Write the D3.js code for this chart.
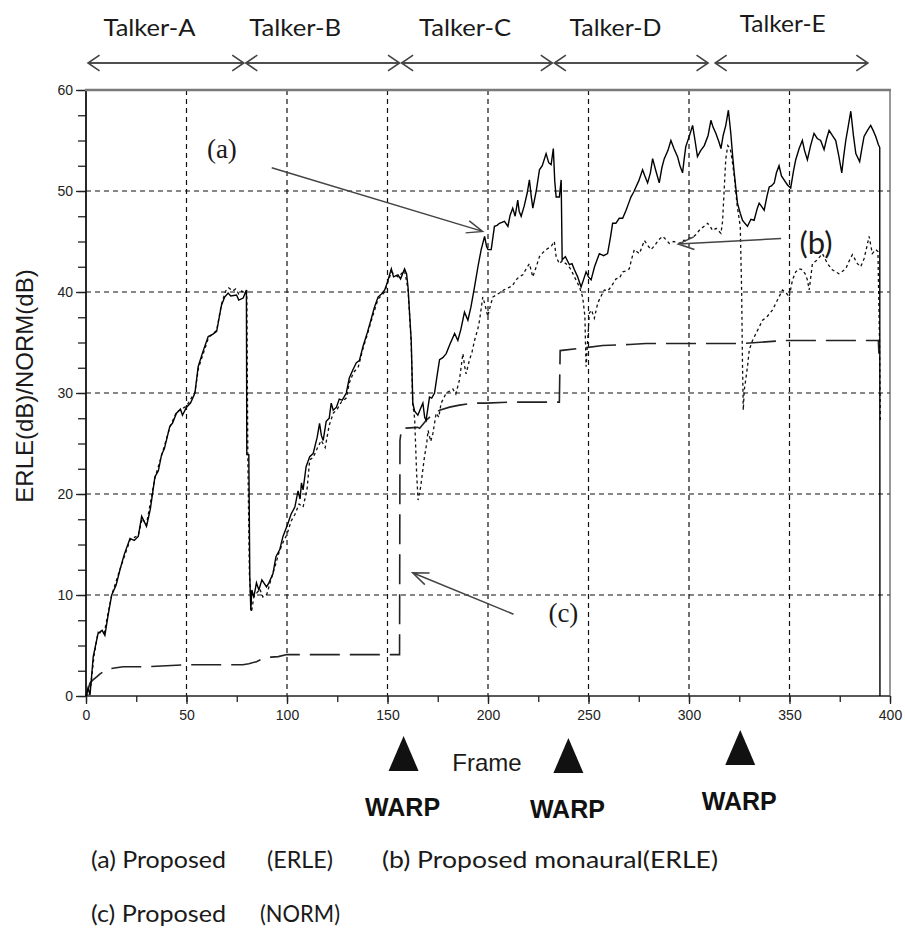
<!DOCTYPE html>
<html>
<head>
<meta charset="utf-8">
<script src="https://cdn.jsdelivr.net/npm/d3@7"></script>
<style>
  body { margin: 0; background: #fff; }
  svg { display: block; }
  .tick text { font-family: "Liberation Sans", Arial, sans-serif; font-size: 14px; fill: #222; }
</style>
</head>
<body>
<div class="chart"></div>
<script>
// ---- data ----
var frameTicks = [0, 50, 100, 150, 200, 250, 300, 350, 400];
var dbTicks = [0, 10, 20, 30, 40, 50, 60];

var talkers = ['Talker-A', 'Talker-B', 'Talker-C', 'Talker-D', 'Talker-E'];
var talkerSpans = [[0, 78.5], [78.5, 156], [156, 232], [232, 309.5], [312, 389]];
var warpFrames = [158, 240, 325.5];

// (a) Proposed (ERLE)  [frame, dB]
var erleProposed = [
  [0,0],[1,0.8],[2,0.1],[3.6,3.9],[6,6.2],[8,6.5],[9.4,6.0],[11,8],[12.8,10],[15,11],[16.9,12.5],[19,14],
  [21.9,15.6],[24,15.4],[26,15.8],[27.7,17.8],[30.1,16.8],[32,18.5],[34.3,21.7],[36,22.3],[37.6,23.9],[39,24.5],
  [41.7,26.7],[43,27],[45,28],[47,28.4],[48,27.8],[50,28.6],[52,29],[54.2,30],[55.8,32.6],[58,34],[60.8,35.6],
  [63,35.8],[65,36.1],[67.4,38.7],[69,39.5],[70.7,39.9],[72,39.6],[74.9,39.7],[76,39.2],[78.2,39.4],[79.8,40.2],
  [80,23.9],[81,23.9],[81.5,11.8],[82,8.5],[82.5,10.5],[83.5,9.8],[84.8,11.2],[86,10.5],[87.5,11.5],[89.8,10.8],
  [91,11.2],[93,12.1],[94.5,13.8],[96.4,14.5],[98,15.8],[100.5,17.1],[102,18],[103.9,18.7],[105.5,20.3],[106.5,19.5],
  [107.2,21.1],[108,20.4],[109.5,22.7],[111.3,23.7],[113,24],[115,25.6],[116.2,27],[117.1,25.8],[118,25.3],
  [119.5,27.2],[121,27.5],[122,29],[123,28.3],[124.6,28.6],[126,29.4],[127.5,29.3],[129.5,30],[131,31.5],
  [132.8,32.3],[134.5,33],[136,33.2],[137.8,34.6],[140,36],[142,37.4],[143.5,38.5],[145.3,39.5],[147,39.8],
  [148.6,40.2],[150,41],[151.9,42.3],[153,41.5],[155.2,41.7],[156.5,41.3],[158.5,42.3],[159.5,41.8],[160.2,40.5],
  [161.8,35.2],[162.6,29],[163.5,28.2],[165.1,27.8],[166.5,28.5],[167.6,29],[168.5,27.6],[169.2,27.3],[170.9,29.6],
  [172,29.5],[173.4,30],[174.5,31.5],[175.9,33.3],[177.5,33.5],[179.2,33.9],[181,34.8],[183.4,35.9],[185,35.2],
  [186.5,36.3],[188.3,38],[190,37.2],[191.5,38.5],[193.3,40.5],[195,42.5],[196.6,44.2],[198.3,45.5],[199.3,44.5],
  [200,44.2],[201.6,44.2],[203.2,46.5],[204.5,46.6],[205.7,46.8],[208.2,47],[209.9,46.5],[211,47.6],[212.3,48.3],
  [213.5,47.5],[214.8,49.1],[215.5,48],[216.5,47.5],[218,48.5],[219.5,49.8],[220.6,51.1],[221.5,49.5],[222.3,48.3],
  [224,50],[225.6,52.1],[227,52.5],[228.9,53.7],[230.2,52.8],[231.4,52.6],[232.5,54.2],[233.2,51],[233.9,49.4],
  [235.5,49.4],[236.4,51.1],[236.9,43.2],[238.5,43.5],[240.5,42.7],[241.8,42.8],[243,42.2],[244.6,41.5],[246.3,40.5],
  [247.5,41.2],[248.8,42],[250,41.5],[251.3,41.2],[253,42.5],[255.4,43.8],[257.5,43.6],[259.5,43.8],[261,45.5],
  [262,46.8],[263.6,46.8],[265.3,47.3],[267,47.3],[268.7,48.1],[270,48.8],[271.1,49.4],[272.5,49.9],[273.6,50.4],
  [275,51],[276.9,52.1],[278,51.5],[279.4,50.8],[280.8,51.8],[281.9,53.2],[283.5,52],[285.2,50.8],[286.5,52.3],
  [287.7,53.2],[289.5,54],[291,55],[292.5,54.2],[294.3,53.4],[295.5,52.5],[296.8,51.8],[297.5,53],[298.4,54.4],
  [300.1,55.4],[301.8,56.5],[303,55],[304.2,53.4],[305.8,54],[307.6,54.5],[309.5,55.5],[310.9,57],[312,56.3],
  [313.4,55.7],[315,54.8],[315.9,54.2],[317,55.5],[318.3,56.5],[319.6,58],[320.8,55.7],[321.7,53.5],[322.5,51.8],
  [324.1,48.8],[325.5,47.8],[326.6,47.1],[327.8,46.8],[329.1,46.5],[330.8,47.2],[332.4,47.1],[334,48.3],[334.9,48.8],
  [336,48.5],[337.4,48.1],[338.8,49.5],[339.9,50.4],[341,50.5],[342.4,50.8],[343.5,51.8],[344.8,52.5],[346,51.5],
  [347.3,51.1],[349,50.6],[350.6,50.3],[352,52],[353.1,53.1],[354.8,54.2],[356.4,55],[357.5,54],[358.9,53.1],
  [360.5,54.5],[362.2,55.7],[363.8,55.2],[365.5,55],[367.2,54.1],[368.5,55.2],[369.7,56],[371.3,55.5],[373,55],
  [374.5,53.5],[376,51.8],[377,53.5],[378,55],[379.3,56.5],[380.5,57.9],[381.8,55.5],[383,53.7],[384.9,52.9],
  [386,54.2],[387.1,55.4],[388.8,56],[390.4,56.5],[391.6,56],[392.9,55.4],[394.2,54.6],[394.9,54.3],[395,0]
];

// (b) Proposed monaural (ERLE)
var erleMonaural = [
  [0,0],[2,0.3],[4,4],[6,6.3],[9,6.2],[12.8,10],[17,12.6],[22,15.5],[26,15.9],[28,17.6],[30,16.9],[34.3,21.6],
  [37.6,23.8],[41.7,26.6],[45,28.1],[50,28.7],[54.2,30.1],[56,32.5],[61,35.5],[65,36.2],[67.4,38.8],[69.5,40.1],
  [71,40.4],[73,40.1],[74.5,40.3],[76,39.8],[77.5,40.1],[79,39.8],[80,40.3],[80.5,24],[81.3,12],[82.3,8.3],
  [83.5,9.8],[85,10.2],[86.5,10.6],[88,9.8],[90,10.1],[92,11.5],[94,12.8],[96,14.2],[98,15.2],[100,16],[102,17.3],
  [104,18],[106,19],[108,18.7],[110,20.5],[111.3,23.4],[113,23.6],[115,24.5],[117,25.3],[119,24.6],[121,26.8],
  [123,28],[125,28.4],[127,29.1],[129.5,29.5],[131,31],[133,32],[135.5,32.6],[137.8,34.4],[140,35.8],[142,37.2],
  [145.3,39.3],[148.6,40],[151.9,42],[155.2,41.5],[158.5,42.1],[160.2,40.3],[161.8,35],[162.5,29],[163.5,27.5],
  [164.5,22],[165.2,19.4],[166.5,20.7],[168.4,23.7],[169.5,25],[170.2,26.3],[171.5,25.2],[172.6,26],[174.2,28],
  [175.5,27.6],[176.7,29],[178,29.5],[179.2,30],[181,30.2],[182.5,30.4],[184,29.9],[185.8,31.3],[187.5,33.9],
  [188.5,32.5],[189.1,31.9],[190.8,33.3],[192,34],[193.3,35.2],[195,36.4],[195.8,37.2],[197.4,39.5],[198.3,38.9],
  [199.9,37.6],[201,38.5],[202.4,39.5],[204,39.7],[205.7,39.9],[207.8,40.2],[209.9,40.4],[212,40.6],[214,41.2],
  [215.5,41.5],[217.3,41.7],[219,42.3],[220.6,42.8],[222.3,41.5],[224,42.5],[225.6,43.5],[227.3,43.9],[228.9,44.2],
  [231.4,44.5],[233,45],[233.9,43.5],[235.5,42.8],[237,43.1],[238.8,42.8],[240,42.6],[241.3,42.2],[243.5,41.3],
  [245.5,40.5],[247.1,39.5],[248.2,37.6],[248.5,34.9],[248.8,32.6],[250.4,37.9],[251.5,38.2],[252.9,37.4],
  [254.6,38.9],[256,39.5],[257.9,40.2],[259.5,40.1],[261.2,40.5],[263.7,41.3],[265.5,41.4],[267,42],[268.8,42.1],
  [270.3,42.3],[271.5,43.3],[272.8,44.2],[274,44],[275.3,43.8],[276.5,44.4],[277.8,45.1],[279.5,44.6],[281.1,44.2],
  [282.5,44.5],[283.6,44.8],[285,45.2],[286.9,45.5],[288.5,45.2],[290.2,44.8],[292.5,45],[295.2,44.8],[296.8,45.1],
  [298.4,45.1],[300,45.3],[301.8,45.4],[303.5,45.7],[305.5,46.2],[307.5,46.5],[309.3,46.8],[310.5,46.5],[311.7,46.1],
  [313.5,46.3],[315.9,45.8],[316.7,47],[317.5,50.1],[318.3,53.2],[319.3,54.5],[320.5,54.2],[321.5,53],[322.5,51.5],
  [324,48.5],[325.5,46.5],[326.2,40],[326.6,33],[327,28.3],[327.5,30.3],[329.1,32.6],[330,34.3],[331.6,35.2],
  [334.1,36.2],[336.6,37.2],[339,37.6],[341.5,38.2],[344,39.2],[346.5,40.2],[348.1,40],[349.8,39.5],[351.5,41.2],
  [353.1,42],[354.8,42.3],[356.4,42.2],[357.8,41.8],[358.9,41.2],[359.8,40.2],[361.4,42.8],[363.9,43.2],[366.4,43.8],
  [368.9,42.8],[371.3,42.2],[374.6,41.8],[378,42.3],[379.5,43],[381.3,43.7],[383.8,42.8],[385.4,42.5],[387.1,43.3],
  [388.5,44.5],[389.6,45.5],[391.2,43.8],[392.9,44.2],[394,44],[394.8,35],[395.2,27.3]
];

// (c) Proposed (NORM)
var normProposed = [
  [0,0],[1,0.6],[2,1.3],[3.5,1.6],[5.3,1.9],[7,2.2],[8.6,2.4],[10,2.6],[11.9,2.7],[15,2.8],[18.5,2.9],[30,2.9],
  [40,3.0],[50,3.1],[60,3.1],[70,3.1],[78,3.1],[81,3.2],[84.8,3.4],[87,3.6],[89.8,3.8],[92,3.85],[95.6,3.9],
  [100,4.1],[120,4.1],[140,4.1],[156,4.1],[156.2,25.3],[157,26.5],[165,26.6],[166,26.5],[169.3,27.3],[172,27.8],
  [175.9,28.3],[180.9,28.6],[185.8,28.8],[192.4,29],[199,29],[212.3,29.1],[235.5,29.1],[235.9,34.2],[245,34.4],
  [257,34.7],[270.3,34.8],[278.6,34.9],[300,34.9],[326,34.9],[348,35.2],[394.2,35.2],[394.5,33.9]
];

// annotation labels, in data units: [frame, dB]
var annLabels = ['(a)', '(b)', '(c)'];
var annText = [[67.6, 53.3], [363.2, 43.8], [237.5, 7.3]];
var annFrom = [[92.4, 52.3], [345.8, 45.3], [212.7, 8.1]];
var annTo = [[197.3, 46.0], [294.7, 44.75], [162.5, 12.2]];

// ---- layout ----
var margin = { top: 90, right: 15, bottom: 235, left: 86 };
var width = 905 - margin.left - margin.right;
var height = 931 - margin.top - margin.bottom;

// centres of the talker names, in frames (they are not centred on the arrows)
var talkerLabelAt = [31.6, 104.1, 188.6, 263.4, 346.6];

var svg = d3.select('.chart')
  .append('svg')
    .attr('width', 905)
    .attr('height', 931)
  .append('g')
    .attr('transform', 'translate(' + margin.left + ', ' + margin.top + ')');

var xScale = d3.scaleLinear().domain([0, 400]).range([0, width]);
var yScale = d3.scaleLinear().domain([0, 60]).range([height, 0]);

// grid
svg.append('g')
  .selectAll('line')
  .data(frameTicks.filter(d => d > 0 && d < 400))
  .enter().append('line')
    .attr('x1', d => xScale(d)).attr('x2', d => xScale(d))
    .attr('y1', 0).attr('y2', height)
    .style('stroke', '#111').style('stroke-width', 1.2).style('stroke-dasharray', '5,4');
svg.append('g')
  .selectAll('line')
  .data(dbTicks.filter(d => d > 0 && d < 60))
  .enter().append('line')
    .attr('x1', 0).attr('x2', width)
    .attr('y1', d => yScale(d)).attr('y2', d => yScale(d))
    .style('stroke', '#111').style('stroke-width', 1.2).style('stroke-dasharray', '5,4');

// minor ticks
svg.append('g')
  .call(d3.axisLeft(yScale).tickValues(d3.range(0, 60.1, 2.5)).tickSize(8).tickFormat(''))
  .call(g => g.select('.domain').remove());
svg.append('g')
  .attr('transform', `translate(0, ${height})`)
  .call(d3.axisBottom(xScale).tickValues(d3.range(0, 401, 25)).tickSize(6).tickFormat(''))
  .call(g => g.select('.domain').remove());

// axes
var yAxis = d3.axisLeft(yScale).tickValues(dbTicks).tickSize(10).tickPadding(3);
svg.append('g').call(yAxis)
  .call(g => g.select('.domain').remove());
var xAxis = d3.axisBottom(xScale).tickValues(frameTicks).tickSize(8).tickPadding(6);
svg.append('g')
  .attr('transform', `translate(0, ${height})`)
  .call(xAxis)
  .call(g => g.select('.domain').remove());
svg.selectAll('.tick line').style('stroke', '#222').style('stroke-width', 1.3);

// frame
svg.append('line').attr('x1', 0).attr('x2', 0).attr('y1', 0).attr('y2', height)
  .style('stroke', '#111').style('stroke-width', 1.8);
svg.append('line').attr('x1', 0).attr('x2', width).attr('y1', height).attr('y2', height)
  .style('stroke', '#222').style('stroke-width', 1.6);
svg.append('line').attr('x1', width).attr('x2', width).attr('y1', 0).attr('y2', height)
  .style('stroke', '#555').style('stroke-width', 1.2);
svg.append('line').attr('x1', -1).attr('x2', width + 1).attr('y1', 0).attr('y2', 0)
  .style('stroke', '#7a7a7a').style('stroke-width', 2.5);

// series
var line = d3.line()
  .x(d => xScale(d[0]))
  .y(d => yScale(d[1]));

svg.append('path').datum(normProposed)
  .attr('d', line)
  .style('fill', 'none').style('stroke', '#222').style('stroke-width', 1.6)
  .style('stroke-dasharray', '30,10');
svg.append('path').datum(erleMonaural)
  .attr('d', line)
  .style('fill', 'none').style('stroke', '#111').style('stroke-width', 1.3)
  .style('stroke-dasharray', '3,3');
svg.append('path').datum(erleProposed)
  .attr('d', line)
  .style('fill', 'none').style('stroke', '#000').style('stroke-width', 1.4);

// open arrow helper
function arrow(g, x1, y1, x2, y2, len, spread, color, w) {
  var a = Math.atan2(y2 - y1, x2 - x1);
  var b1 = [x2 - len * Math.cos(a - spread), y2 - len * Math.sin(a - spread)];
  var b2 = [x2 - len * Math.cos(a + spread), y2 - len * Math.sin(a + spread)];
  g.append('path')
    .attr('d', `M${x1},${y1}L${x2},${y2}M${b1[0]},${b1[1]}L${x2},${y2}L${b2[0]},${b2[1]}`)
    .style('fill', 'none').style('stroke', color).style('stroke-width', w);
}

// annotations (a), (b), (c)
annLabels.forEach(function(lbl, i) {
  arrow(svg, xScale(annFrom[i][0]), yScale(annFrom[i][1]), xScale(annTo[i][0]), yScale(annTo[i][1]), 17, 0.38, '#444', 1.5);
  svg.append('text')
    .attr('x', xScale(annText[i][0]))
    .attr('y', yScale(annText[i][1]))
    .attr('text-anchor', 'middle')
    .style('font-family', i == 1 ? 'Lato, "Open Sans", sans-serif' : '"Liberation Serif", "DejaVu Serif", serif')
    .style('font-size', i == 1 ? '31px' : '27px')
    .style('fill', '#1a1a1a')
    .text(lbl);
});

// talker arrows on top
var talkerY = -27;
talkerSpans.forEach(function(s, i) {
  var x1 = xScale(s[0]) + 2, x2 = xScale(s[1]);
  arrow(svg, x1, talkerY, x2, talkerY, 14, 0.6, '#444', 1.6);
  arrow(svg, x2, talkerY, x1, talkerY, 14, 0.6, '#444', 1.6);
  svg.append('text')
    .attr('x', xScale(talkerLabelAt[i]))
    .attr('y', i == 4 ? -58 : -54)
    .attr('text-anchor', 'middle')
    .attr('textLength', i == 4 ? 86 : 92)
    .attr('lengthAdjust', 'spacingAndGlyphs')
    .style('font-family', 'Lato, "Open Sans", sans-serif')
    .style('font-size', '23px')
    .style('fill', '#1a1a1a')
    .text(talkers[i]);
});

// WARP markers
var warpLift = [0, -2, 6];
warpFrames.forEach(function(f, i) {
  var cx = xScale(f), top = height + 40 - warpLift[i];
  svg.append('path')
    .attr('d', `M${cx},${top}L${cx + 15},${top + 35}L${cx - 15},${top + 35}Z`)
    .style('fill', '#111');
  svg.append('text')
    .attr('x', cx - 1).attr('y', height + 120 - warpLift[i])
    .attr('text-anchor', 'middle')
    .style('font-family', '"Liberation Sans", Arial, sans-serif')
    .style('font-weight', 'bold')
    .style('font-size', '25px')
    .style('fill', '#111')
    .text('WARP');
});

// axis titles
svg.append('text')
  .attr('x', xScale(199.5)).attr('y', height + 75)
  .attr('text-anchor', 'middle')
  .style('font-family', '"Liberation Sans", Arial, sans-serif')
  .style('font-size', '24px').style('fill', '#1a1a1a')
  .text('Frame');
svg.append('text')
  .attr('transform', `translate(-53, ${height / 2 - 7}) rotate(-90)`)
  .attr('text-anchor', 'middle')
  .style('font-family', '"Liberation Sans", Arial, sans-serif')
  .style('font-size', '24px').style('fill', '#1a1a1a')
  .text('ERLE(dB)/NORM(dB)');

// legend lines
var legendFont = 'Lato, "Open Sans", sans-serif';
function legendText(x, y, t, len) {
  svg.append('text').attr('x', x).attr('y', y)
    .attr('textLength', len).attr('lengthAdjust', 'spacingAndGlyphs')
    .style('font-family', legendFont).style('font-size', '24px').style('fill', '#1a1a1a')
    .text(t);
}
legendText(5, height + 172, '(a) Proposed', 135);
legendText(181, height + 172, '(ERLE)', 66);
legendText(296, height + 172, '(b) Proposed monaural(ERLE)', 336);
legendText(5, height + 226, '(c) Proposed', 135);
legendText(174, height + 226, '(NORM)', 80);
</script>
</body>
</html>
